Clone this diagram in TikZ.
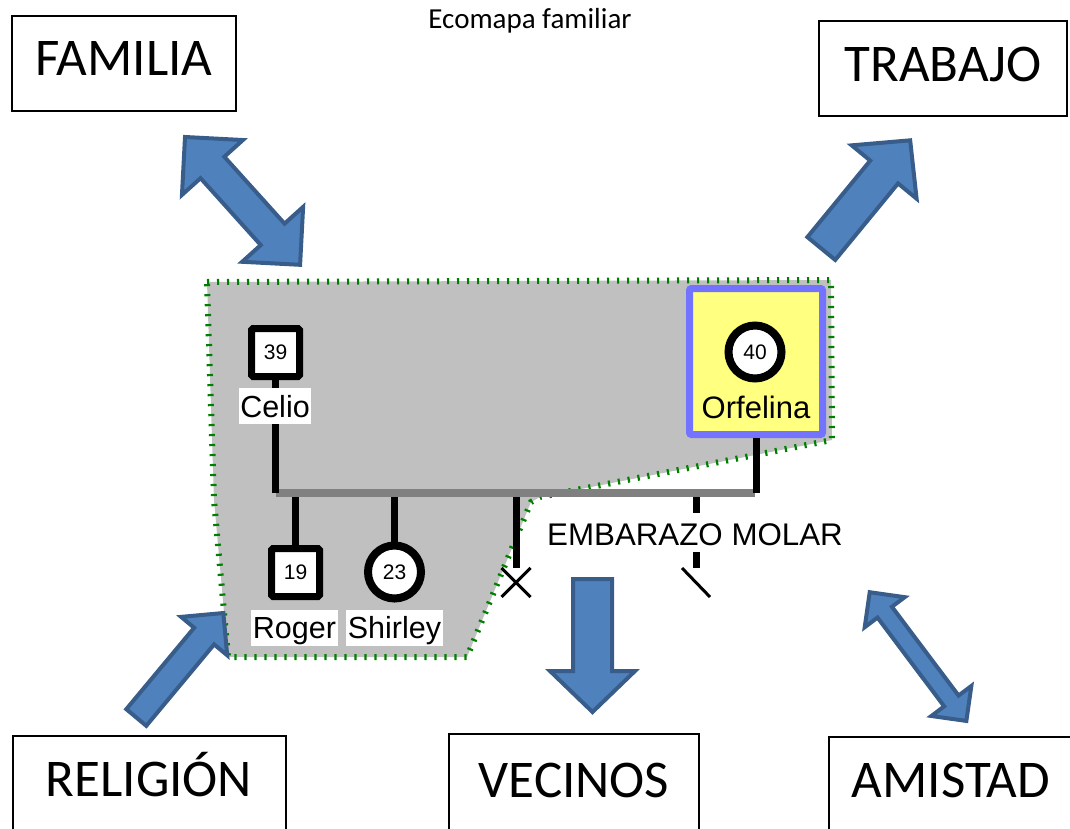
\documentclass[tikz,border=0pt]{standalone}
\usepackage{fontspec}
\setmainfont{Carlito}
\newfontfamily\genofont{Liberation Sans}
\usetikzlibrary{shapes.misc}

\pgfdeclarelayer{shade}
\pgfdeclarelayer{links}
\pgfsetlayers{shade,links,main}

\definecolor{arrowfill}{HTML}{4F81BD}
\definecolor{arrowedge}{HTML}{385D8A}
\definecolor{zonegray}{HTML}{C0C0C0}
\definecolor{zonegreen}{HTML}{008000}
\definecolor{barcolor}{HTML}{808080}
\definecolor{indexfill}{HTML}{FFFF80}
\definecolor{indexedge}{HTML}{7373FF}

% block arrow with two heads: start tip, angle, length, shaft half-width, head half-width
\newcommand\EcoTwoWay[5]{%
  \begin{scope}[shift={#1}, rotate=#2]
    \draw[blockarrow] (0,0) -- (#5,#5) -- (#5,#4) -- ({#3-#5},#4) -- ({#3-#5},#5)
      -- (#3,0) -- ({#3-#5},-#5) -- ({#3-#5},-#4) -- (#5,-#4) -- (#5,-#5) -- cycle;
  \end{scope}}
% block arrow with one head: tail centre, angle, length, shaft half-width, head half-width, head length
\newcommand\EcoOneWay[6]{%
  \begin{scope}[shift={#1}, rotate=#2]
    \draw[blockarrow] (0,-#4) -- ({#3-#6},-#4) -- ({#3-#6},-#5) -- (#3,0)
      -- ({#3-#6},#5) -- ({#3-#6},#4) -- (0,#4) -- cycle;
  \end{scope}}

\begin{document}
\begin{tikzpicture}[x=1pt,y=-1pt,
  blockarrow/.style={fill=arrowfill, draw=arrowedge, line width=4, line join=miter},
  system/.style={draw=black, line width=2, fill=white, inner sep=0},
  systemtext/.style={anchor=base, inner sep=0, font=\fontsize{53}{60}\selectfont},
  male/.style={draw=black, line width=7, fill=white, rectangle, rounded corners=1.5,
    minimum size=48, inner sep=0, font=\genofont\fontsize{21}{24}\selectfont},
  female/.style={draw=black, line width=8, fill=white, circle, minimum size=53,
    inner sep=0, font=\genofont\fontsize{21}{24}\selectfont},
  namebox/.style={fill=white, inner xsep=1.5pt, inner ysep=0.5pt, text height=28.5pt,
    text depth=6.5pt, font=\genofont\fontsize{30.5}{34}\selectfont},
  kinline/.style={draw=black, line width=7},
  union/.style={draw=barcolor, line width=8},
  thinsymbol/.style={draw=black, line width=3}]

\useasboundingbox (0,0) rectangle (1070,829);

% title
\node[anchor=base, inner sep=0, font=\fontsize{29}{34}\selectfont] (title) at (530,29) {Ecomapa familiar};

% outer systems
\node[system, minimum width=224, minimum height=95] (familia) at (124,63.5) {};
\node[systemtext] (familiaText) at (124,76) {FAMILIA};
\node[system, minimum width=248, minimum height=95] (trabajo) at (943,68.5) {};
\node[systemtext] (trabajoText) at (943,82) {TRABAJO};
\node[system, minimum width=273, minimum height=123] (religion) at (149.5,797.5) {};
\node[systemtext] (religionText) at (149,796) {RELIGIÓN};
\node[system, minimum width=250, minimum height=125] (vecinos) at (574,796.5) {};
\node[systemtext] (vecinosText) at (574,797) {VECINOS};
\node[system, minimum width=270, minimum height=122] (amistad) at (964,798) {};
\node[systemtext] (amistadText) at (951,797) {AMISTAD};

% relation arrows
\EcoTwoWay{(185,137)}{-48}{172}{16}{41}
\EcoOneWay{(821.3,248.5)}{50.6}{140}{18}{42}{41}
\EcoOneWay{(136.3,717.5)}{50.2}{136}{13}{30}{30}
\EcoOneWay{(592.5,579)}{-90}{133}{19.5}{42.5}{41}
\EcoTwoWay{(869.7,592.2)}{-53.1}{161}{9}{25}

% household zone and index person
\begin{pgfonlayer}{shade}
  \draw[fill=zonegray, draw=zonegreen, line width=6, dash pattern=on 2.2 off 7.8]
    (207,282) -- (831,280) -- (832,440) -- (540,497) -- (531,502) -- (467,657)
    -- (228,657) -- (214,500) -- cycle;
  \node[draw=indexedge, fill=indexfill, line width=7, rounded corners=2,
    minimum width=133, minimum height=146, inner sep=0] (orfBox) at (756,361.5) {};
\end{pgfonlayer}

% family members
\node[male] (celio) at (275.5,352.5) {39};
\node[namebox] (celioName) at (275,406) {Celio};
\node[female] (orfelina) at (755,352) {40};
\node[anchor=base, inner sep=0, font=\genofont\fontsize{31}{35}\selectfont] (orfelinaName) at (756,418) {Orfelina};
\node[male] (roger) at (295.5,572.5) {19};
\node[namebox] (rogerName) at (294.5,627.5) {Roger};
\node[female] (shirley) at (394.5,572) {23};
\node[namebox] (shirleyName) at (394.5,627.5) {Shirley};
\node[cross out, thinsymbol, minimum size=26, inner sep=0] (aborto) at (516,582.5) {};
\coordinate (molarEnd) at (696,568);
\node[anchor=base, inner sep=0, font=\genofont\fontsize{31.3}{35}\selectfont] (molarText) at (695,545) {EMBARAZO MOLAR};

% kinship lines
\coordinate (barL) at (276,493);
\coordinate (barR) at (755,493);
\begin{pgfonlayer}{links}
  \draw[kinline] (roger.north) -- (roger.north |- barL);
  \draw[kinline] (shirley.north) -- (shirley.north |- barL);
  \draw[kinline] (aborto.north) -- (aborto.north |- barL);
  \draw[kinline, dash pattern=on 20 off 39] (molarEnd |- barL) -- (molarEnd);
  \draw[union] (barL) -- (barR);
  \draw[kinline] (celio.south) -- (celio.south |- barL);
  \draw[kinline] (orfBox.south) -- (orfBox.south |- barR);
\end{pgfonlayer}
\draw[thinsymbol] (molarEnd) ++(-14,0) -- ++(28,29);

\end{tikzpicture}
\end{document}
